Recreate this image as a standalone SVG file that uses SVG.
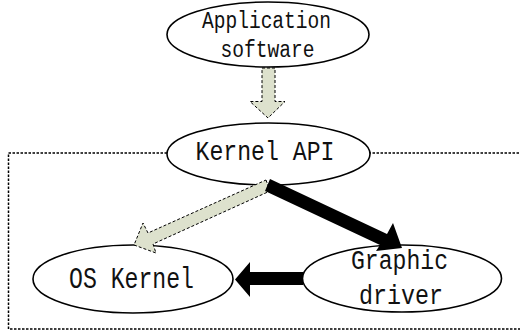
<svg xmlns="http://www.w3.org/2000/svg" width="520" height="334" viewBox="0 0 520 334">
<style>
.node{fill:#fff;stroke:#000;stroke-width:1.6}
.lbl{font-family:"Liberation Mono",monospace;fill:#111}
.soft{fill:#dde1cd;stroke:#000;stroke-width:1;stroke-dasharray:3,2}
.hard{fill:#000;stroke:none}
.frame{fill:none;stroke:#000;stroke-width:1.5;stroke-dasharray:2.5,1.5}
</style>
<rect class="frame" x="8.5" y="153" width="520" height="176"/>
<g id="app">
<ellipse class="node" cx="268" cy="34.5" rx="101" ry="32.5"/>
<text class="lbl" x="202" y="28" font-size="23" textLength="129" lengthAdjust="spacingAndGlyphs">Application</text>
<text class="lbl" x="220.5" y="57" font-size="23" textLength="94" lengthAdjust="spacingAndGlyphs">software</text>
</g>
<g id="kernelapi">
<ellipse class="node" cx="268.5" cy="154" rx="101.5" ry="31"/>
<text class="lbl" x="195.5" y="160" font-size="27" textLength="139" lengthAdjust="spacingAndGlyphs">Kernel API</text>
</g>
<g id="oskernel">
<ellipse class="node" cx="133" cy="279" rx="100" ry="34"/>
<text class="lbl" x="69" y="288" font-size="29" textLength="125" lengthAdjust="spacingAndGlyphs">OS Kernel</text>
</g>
<g id="driver">
<ellipse class="node" cx="402" cy="278.5" rx="99.5" ry="33.5"/>
<text class="lbl" x="351" y="269" font-size="27" textLength="97" lengthAdjust="spacingAndGlyphs">Graphic</text>
<text class="lbl" x="359" y="304" font-size="27" textLength="84" lengthAdjust="spacingAndGlyphs">driver</text>
</g>
<g id="connectors">
<polygon class="soft" points="262,68 275,68 275,101.5 285,101.5 268,118 250,101.5 262,101.5"/>
<polygon class="soft" points="266,180 270,191 153,244 156,253 134,245 143,223 148,233"/>
<polygon class="hard" points="270,179 387,234 393,223 402,248 376,251 380,245 265,191"/>
<polygon class="hard" points="303,272 250,272 250,262 235,279.5 250,297 250,285 303,285"/>
</g>
</svg>
